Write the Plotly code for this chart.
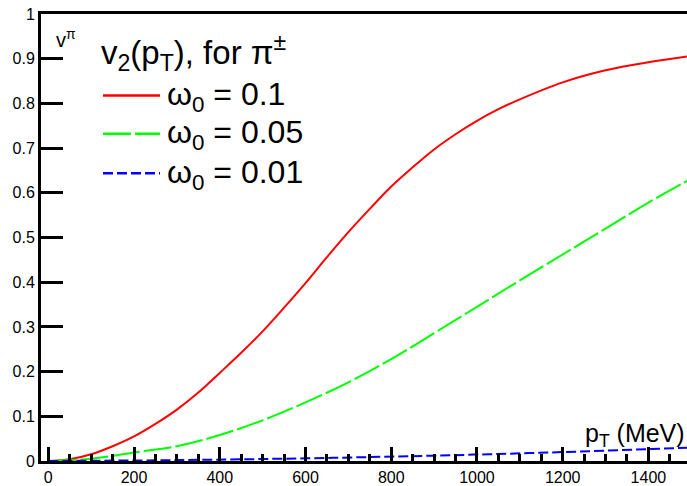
import plotly.graph_objects as go

# ---- data ----
pt_red = [0, 50, 100, 150, 200, 250, 300, 350, 400, 450, 500, 550, 600, 650, 700,
          750, 800, 850, 900, 950, 1000, 1050, 1100, 1200, 1300, 1400, 1500]
v2_red = [0.0, 0.004, 0.015, 0.033, 0.055, 0.083, 0.115, 0.153, 0.197, 0.242, 0.29,
          0.343, 0.398, 0.456, 0.512, 0.564, 0.614, 0.657, 0.697, 0.731, 0.761, 0.787,
          0.809, 0.847, 0.874, 0.892, 0.906]

pt_green = [0, 100, 200, 300, 400, 500, 600, 700, 800, 900, 1000, 1100, 1200, 1300, 1400, 1500]
v2_green = [0.0, 0.005, 0.019, 0.033, 0.058, 0.091, 0.131, 0.176, 0.228, 0.286, 0.345,
            0.404, 0.462, 0.52, 0.578, 0.632]

pt_blue = [0, 300, 600, 900, 1200, 1500]
v2_blue = [0.0, 0.002, 0.006, 0.012, 0.02, 0.03]

series_names = ["ω<sub>0</sub> = 0.1", "ω<sub>0</sub> = 0.05", "ω<sub>0</sub> = 0.01"]

# ---- figure ----
W, H = 687, 486
ML, MR, MT, MB = 41, 0, 14, 20
PW, PH = W - ML - MR, H - MT - MB

def px_x(p):
    return (p - ML) / PW

def px_y(p):
    return (H - MB - p) / PH

colors = ["#ff0000", "#00ff00", "#0000ff"]
dashes = ["solid", "28px,4px", "10px,4px"]

fig = go.Figure()
for xs, ys, c, d, n in zip([pt_red, pt_green, pt_blue], [v2_red, v2_green, v2_blue],
                           colors, dashes, series_names):
    fig.add_trace(go.Scatter(x=xs, y=ys, mode="lines", name=n,
                             line=dict(color=c, width=2, dash=d, shape="spline", smoothing=1.0),
                             showlegend=False))

FONT = "Liberation Sans, Arial, Helvetica, sans-serif"

fig.update_layout(
    width=W, height=H,
    margin=dict(l=ML, r=MR, t=MT, b=MB, pad=0),
    paper_bgcolor="white", plot_bgcolor="white",
    font=dict(family=FONT, color="black"),
    xaxis=dict(range=[-17, 1490], tickmode="linear", tick0=0, dtick=200,
               ticks="inside", ticklen=14, tickwidth=2.5,
               tickcolor="black", showline=True, linewidth=3, linecolor="black", mirror=True,
               showgrid=False, zeroline=False, tickfont=dict(size=16, family=FONT),
               minor=dict(tickmode="linear", dtick=50, ticks="inside", ticklen=7,
                          tickwidth=2.5, tickcolor="black", showgrid=False)),
    yaxis=dict(range=[0, 1], tickmode="linear", tick0=0, dtick=0.1,
               ticks="inside", ticklen=22, tickwidth=3, tickcolor="#000000",
               showline=True, linewidth=3, linecolor="black",
               showgrid=False, zeroline=False, tickfont=dict(size=16, family=FONT)),
)

# legend block (title + samples + labels)
ann = []
ann.append(dict(text="v<sub>2</sub>(p<sub>T</sub>), for π<sup>±</sup>", x=px_x(99), y=px_y(53),
                xref="paper", yref="paper", xanchor="left", yanchor="middle", showarrow=False,
                font=dict(size=33, family=FONT, color="black")))
sample_y = [96.5, 135, 175]
for n, c, d, sy in zip(series_names, colors, dashes, sample_y):
    fig.add_shape(type="line", xref="paper", yref="paper", x0=px_x(103), x1=px_x(160),
                  y0=px_y(sy), y1=px_y(sy), line=dict(color=c, width=2.5, dash=d))
    ann.append(dict(text=n, x=px_x(165), y=px_y(sy + 1), xref="paper", yref="paper",
                    xanchor="left", yanchor="middle", showarrow=False,
                    font=dict(size=32, family=FONT, color="black")))

# x-axis title
ann.append(dict(text="p<sub>T</sub> (MeV)", x=1.0, y=px_y(440), xref="paper", yref="paper",
                xanchor="right", yanchor="middle", showarrow=False,
                font=dict(size=25, family=FONT, color="black")))
# y-axis title (small, top-left)
ann.append(dict(text="v<sup>π</sup>", x=px_x(54), y=px_y(39), xref="paper", yref="paper",
                xanchor="left", yanchor="middle", showarrow=False,
                font=dict(size=20, family=FONT, color="black")))
fig.update_layout(annotations=ann)

fig.write_html("out.html")
